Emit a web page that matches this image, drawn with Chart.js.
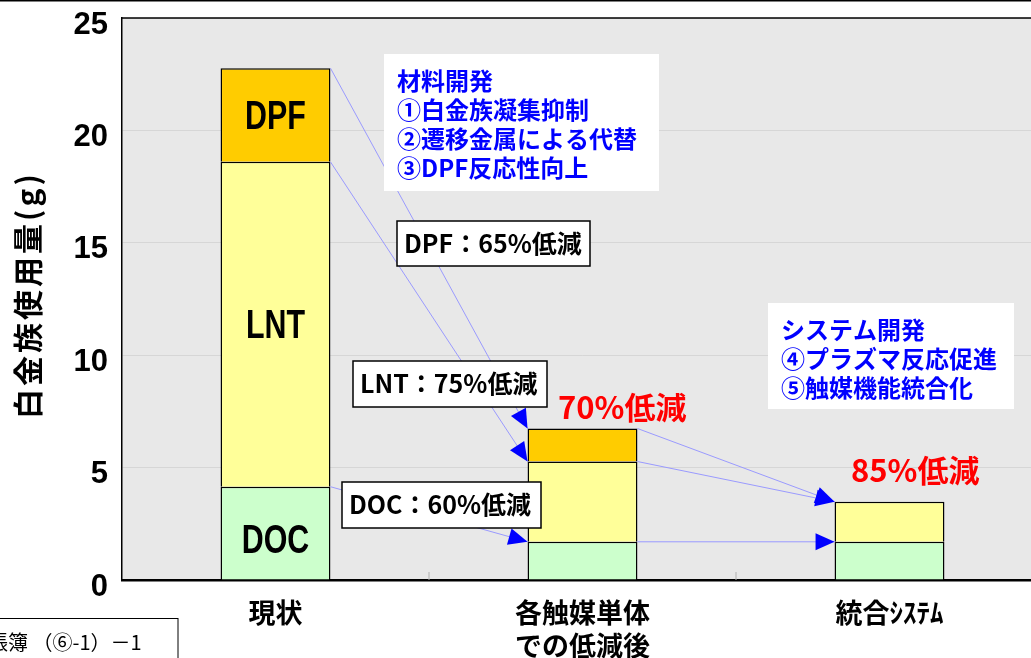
<!DOCTYPE html>
<html>
<head>
<meta charset="utf-8">
<script src="https://cdn.jsdelivr.net/npm/chart.js@4.4.0/dist/chart.umd.min.js"></script>
<style>
  html, body { margin: 0; padding: 0; background: #fff; overflow: hidden; }
  #wrap { width: 1031px; height: 658px; overflow: hidden; position: relative; }
</style>
</head>
<body>
<div id="wrap"><canvas id="chart" width="1045" height="658"></canvas></div>
<script>
var categories = ['現状', ['各触媒単体', 'での低減後'], '統合ｼｽﾃﾑ'];
var docValues = [4.15, 1.7, 1.7];
var lntValues = [14.45, 3.57, 1.78];
var dpfValues = [4.17, 1.47, null];
var yTicks = [0, 5, 10, 15, 20, 25];
var yTitle = '白金族使用量(g)';

var jp = "'Noto Sans CJK JP', sans-serif";

function box(ctx, x, y, w, h, border) {
  ctx.fillStyle = '#fff';
  ctx.fillRect(x, y, w, h);
  if (border) {
    ctx.strokeStyle = '#000';
    ctx.lineWidth = 1.5;
    ctx.strokeRect(x, y, w, h);
  }
}

function lines(ctx, list, x, y0, step, font, color) {
  ctx.font = font;
  ctx.fillStyle = color;
  ctx.textAlign = 'left';
  ctx.textBaseline = 'middle';
  list.forEach(function(t, i) { ctx.fillText(t, x, y0 + i * step); });
}

function arrow(ctx, x1, y1, x2, y2) {
  ctx.strokeStyle = '#9a9aff';
  ctx.lineWidth = 1;
  ctx.beginPath();
  ctx.moveTo(x1, y1);
  ctx.lineTo(x2, y2);
  ctx.stroke();
}

function head(ctx, x1, y1, x2, y2) {
  var dx = x2 - x1, dy = y2 - y1, len = Math.sqrt(dx * dx + dy * dy);
  var ux = dx / len, uy = dy / len, px = -uy, py = ux;
  var bx = x2 - ux * 19, by = y2 - uy * 19;
  ctx.fillStyle = '#0000ff';
  ctx.beginPath();
  ctx.moveTo(x2, y2);
  ctx.lineTo(bx + px * 8.5, by + py * 8.5);
  ctx.lineTo(bx - px * 8.5, by - py * 8.5);
  ctx.closePath();
  ctx.fill();
}

var decor = {
  id: 'decor',
  beforeDraw: function(chart) {
    var ctx = chart.ctx, a = chart.chartArea;
    ctx.save();
    ctx.fillStyle = '#fff';
    ctx.fillRect(0, 0, chart.width, chart.height);
    ctx.fillStyle = '#e8e8e8';
    ctx.fillRect(a.left, a.top, a.right - a.left, a.bottom - a.top);
    ctx.fillStyle = '#000';
    ctx.fillRect(0, 0, chart.width, 1.5);
    ctx.restore();
  },
  afterDraw: function(chart) {
    var ctx = chart.ctx, a = chart.chartArea;
    ctx.save();
    ctx.strokeStyle = '#000';
    ctx.lineWidth = 1.5;
    ctx.beginPath();
    ctx.moveTo(a.left, a.top);
    ctx.lineTo(a.right, a.top);
    ctx.stroke();
    // category separator ticks
    ctx.strokeStyle = '#b0b0b0';
    ctx.lineWidth = 1;
    var xs = chart.scales.x;
    for (var k = 1; k < categories.length; k++) {
      var sx = (xs.getPixelForValue(k - 1) + xs.getPixelForValue(k)) / 2;
      ctx.beginPath();
      ctx.moveTo(sx, a.bottom - 8);
      ctx.lineTo(sx, a.bottom);
      ctx.stroke();
    }

    // y axis title
    ctx.save();
    ctx.translate(28, (a.top + a.bottom) / 2 - 4);
    ctx.rotate(-Math.PI / 2);
    ctx.font = 'bold 30px ' + jp;
    ctx.letterSpacing = '3px';
    ctx.fillStyle = '#000';
    ctx.textAlign = 'center';
    ctx.textBaseline = 'middle';
    ctx.fillText(yTitle, 0, 0);
    ctx.restore();

    var doc = chart.getDatasetMeta(0).data;
    var lnt = chart.getDatasetMeta(1).data;
    var dpf = chart.getDatasetMeta(2).data;
    function topOf(el) { return el && !isNaN(el.y) && el.y !== el.base ? el.y : null; }
    var segs = [doc, lnt, dpf];
    var links = [];
    for (var i = 0; i < 2; i++) {
      segs.forEach(function(s, j) {
        var from = s[i];
        var toTop = topOf(s[i + 1]);
        if (toTop === null) toTop = lnt[i + 1].y;
        links.push([from.x + from.width / 2, from.y, s[i + 1].x - s[i + 1].width / 2, toTop]);
      });
    }
    links.forEach(function(l) { arrow(ctx, l[0], l[1], l[2], l[3]); });
    links.forEach(function(l) { head(ctx, l[0], l[1], l[2], l[3]); });

    // segment labels on first bar
    var names = ['DOC', 'LNT', 'DPF'];
    ctx.fillStyle = '#000';
    ctx.textAlign = 'center';
    ctx.textBaseline = 'middle';
    ctx.font = "bold 40px 'Liberation Sans Narrow', 'Liberation Sans', sans-serif";
    segs.forEach(function(s, j) {
      var el = s[0];
      var cy = (el.y + el.base) / 2 + (j === 0 ? 9 : 3);
      ctx.save();
      ctx.translate(el.x, cy);
      ctx.scale(0.76, 1);
      ctx.fillText(names[j], 0, 0);
      ctx.restore();
    });

    // text boxes
    box(ctx, 384, 54, 275, 137, false);
    lines(ctx, ['材料開発', '①白金族凝集抑制', '②遷移金属による代替', '③DPF反応性向上'], 397, 81, 29, 'bold 24px ' + jp, '#0000ff');
    box(ctx, 768, 303, 246, 106, false);
    lines(ctx, ['システム開発', '④プラズマ反応促進', '⑤触媒機能統合化'], 781, 330, 29, 'bold 24px ' + jp, '#0000ff');

    box(ctx, 397, 221, 193, 45, true);
    lines(ctx, ['DPF：65%低減'], 404, 243, 0, 'bold 25px ' + jp, '#000');
    box(ctx, 353, 361, 194, 46, true);
    lines(ctx, ['LNT：75%低減'], 360, 383, 0, 'bold 25px ' + jp, '#000');
    box(ctx, 342, 482, 199, 46, true);
    lines(ctx, ['DOC：60%低減'], 349, 504, 0, 'bold 25px ' + jp, '#000');

    lines(ctx, ['70%低減'], 558, 407, 0, 'bold 31px ' + jp, '#ff0000');
    lines(ctx, ['85%低減'], 851, 470, 0, 'bold 31px ' + jp, '#ff0000');

    // source note box at bottom left
    ctx.fillStyle = '#fff';
    ctx.fillRect(-2, 618, 180, 50);
    ctx.strokeStyle = '#000';
    ctx.lineWidth = 1;
    ctx.strokeRect(-2, 618.5, 180, 50);
    lines(ctx, ['帳簿 （⑥-1）－1'], -12, 642, 0, '20px ' + jp, '#000');
    ctx.restore();
  }
};

var ctx = document.getElementById('chart').getContext('2d');
new Chart(ctx, {
  type: 'bar',
  data: {
    labels: categories,
    datasets: [
      { label: 'DOC', data: docValues, backgroundColor: '#ccffcc' },
      { label: 'LNT', data: lntValues, backgroundColor: '#ffff99' },
      { label: 'DPF', data: dpfValues, backgroundColor: '#ffcc00' }
    ].map(function(d) {
      d.borderColor = '#000';
      d.borderWidth = 1.5;
      d.categoryPercentage = 1;
      d.barPercentage = 0.358;
      return d;
    })
  },
  options: {
    responsive: false,
    devicePixelRatio: 1,
    animation: false,
    layout: { padding: { top: 18, left: 0, right: 2, bottom: 0 } },
    plugins: {
      legend: { display: false },
      title: { display: false },
      tooltip: { enabled: false }
    },
    scales: {
      x: {
        stacked: true,
        grid: { display: false, drawTicks: false },
        border: { display: true, color: '#000', width: 2.5 },
        ticks: {
          color: '#000',
          padding: 17,
          maxRotation: 0,
          font: { family: "'Noto Sans CJK JP', sans-serif", weight: 'bold', size: 27, lineHeight: 1.2 }
        },
        afterFit: function(s) { s.height = 78; s.paddingLeft = 0; s.paddingRight = 0; }
      },
      y: {
        stacked: true,
        min: 0,
        max: 25,
        afterBuildTicks: function(s) { s.ticks = yTicks.map(function(v) { return { value: v }; }); },
        grid: { color: '#d6d6d6', lineWidth: 1, drawTicks: false },
        border: { display: true, color: '#000', width: 1.5 },
        ticks: {
          color: '#000',
          padding: 14,
          labelOffset: 7,
          font: { family: "'Liberation Sans Narrow', 'Liberation Sans', sans-serif", weight: 'bold', size: 31 }
        },
        afterFit: function(s) { s.width = 122; s.paddingTop = 0; s.paddingBottom = 0; }
      }
    }
  },
  plugins: [decor]
});
</script>
</body>
</html>
